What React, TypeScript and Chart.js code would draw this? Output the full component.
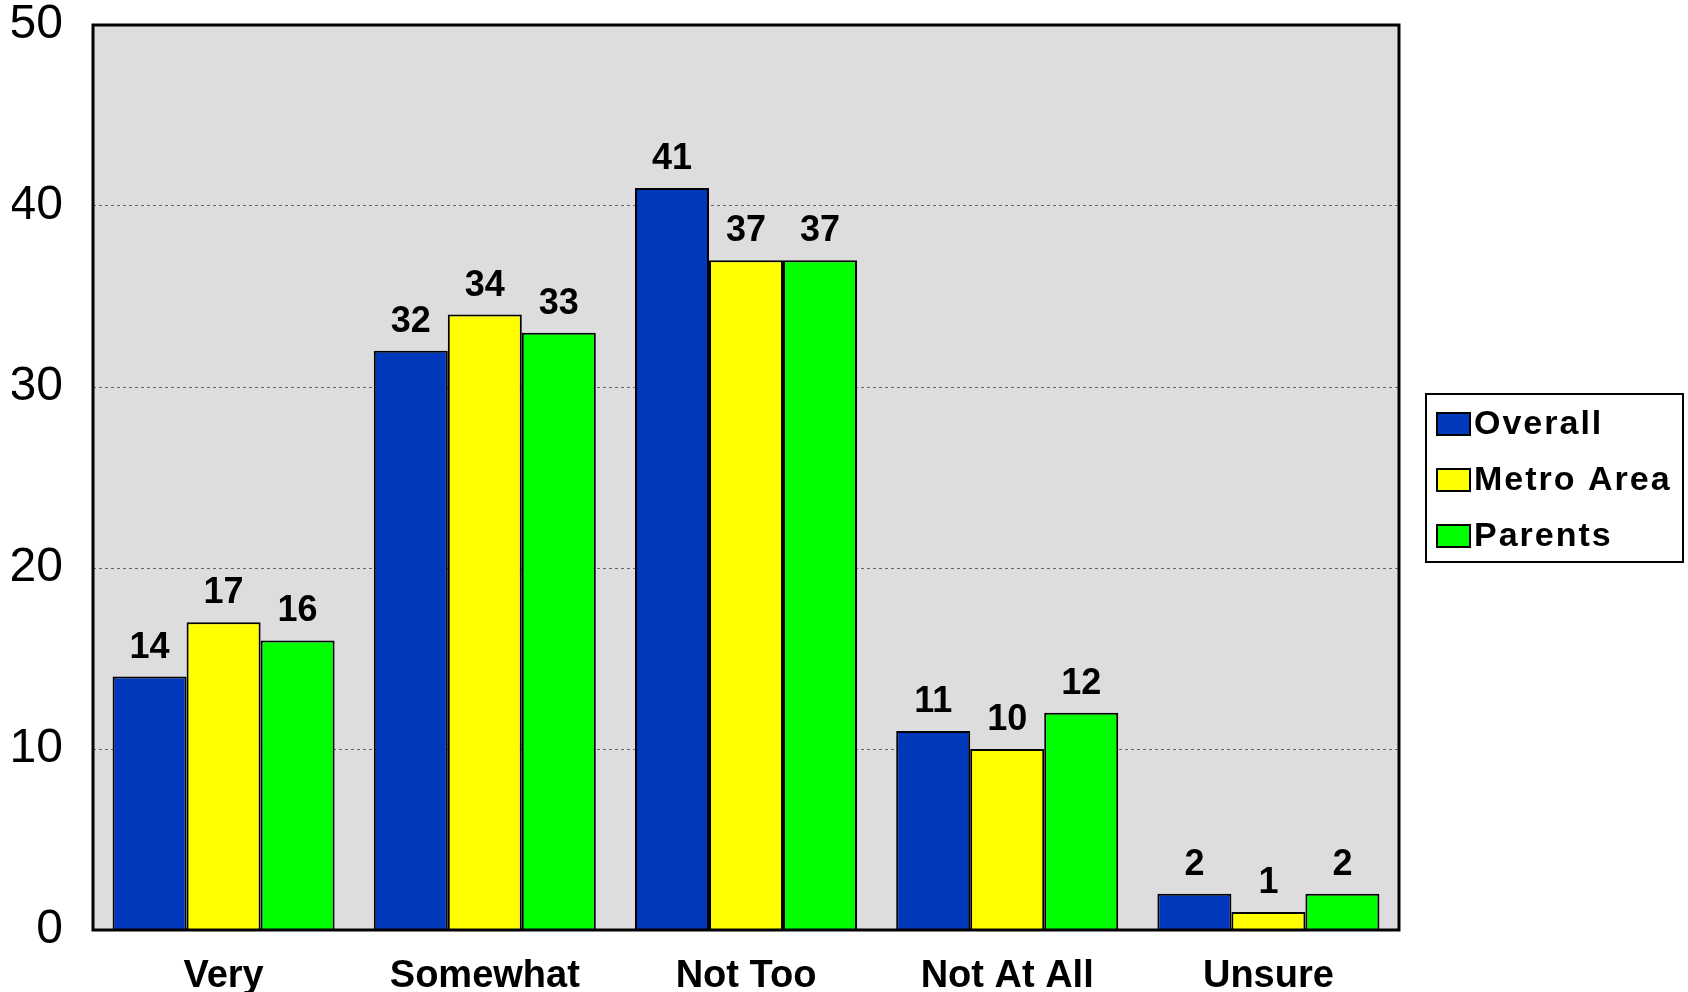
import React, { useEffect, useRef } from "react";
import { Chart, registerables } from "chart.js";

Chart.register(...registerables);

const categories = ["Very", "Somewhat", "Not Too", "Not At All", "Unsure"];
const seriesNames = ["Overall", "Metro Area", "Parents"];
const overall = [14, 32, 41, 11, 2];
const metroArea = [17, 34, 37, 10, 1];
const parents = [16, 33, 37, 12, 2];
const seriesColors = ["#0038BC", "#FFFF00", "#00FF00"];
const yTicks = [0, 10, 20, 30, 40, 50];

const FONT = "'Liberation Sans', Arial, sans-serif";

const plotBgPlugin = {
  id: "plotBg",
  beforeDraw(chart: any) {
    const { ctx, chartArea } = chart;
    ctx.save();
    ctx.fillStyle = "#DDDDDD";
    ctx.fillRect(chartArea.left, chartArea.top, chartArea.right - chartArea.left, chartArea.bottom - chartArea.top);
    ctx.restore();
  },
  afterDatasetsDraw(chart: any) {
    const { ctx, chartArea } = chart;
    ctx.save();
    ctx.strokeStyle = "#000";
    ctx.lineWidth = 3;
    ctx.strokeRect(chartArea.left, chartArea.top, chartArea.right - chartArea.left, chartArea.bottom - chartArea.top);
    // data labels
    ctx.fillStyle = "#000";
    ctx.font = `bold 36px ${FONT}`;
    ctx.textAlign = "center";
    ctx.textBaseline = "alphabetic";
    chart.data.datasets.forEach((ds: any, di: number) => {
      const meta = chart.getDatasetMeta(di);
      meta.data.forEach((bar: any, i: number) => {
        ctx.fillText(String(ds.data[i]), bar.x, bar.y - 19);
      });
    });
    // legend
    const lx = 1426, ly = 394, lw = 257, lh = 168;
    ctx.fillStyle = "#fff";
    ctx.fillRect(lx, ly, lw, lh);
    ctx.strokeStyle = "#000";
    ctx.lineWidth = 2;
    ctx.strokeRect(lx, ly, lw, lh);
    ctx.font = `bold 34px ${FONT}`;
    (ctx as any).letterSpacing = "2px";
    ctx.textAlign = "left";
    ctx.textBaseline = "middle";
    chart.data.datasets.forEach((ds: any, di: number) => {
      const cy = ly + 30 + di * 56;
      ctx.fillStyle = ds.backgroundColor;
      ctx.fillRect(lx + 11, cy - 11, 33, 22);
      ctx.strokeStyle = "#000";
      ctx.lineWidth = 2;
      ctx.strokeRect(lx + 11, cy - 11, 33, 22);
      ctx.fillStyle = "#000";
      ctx.fillText(ds.label, lx + 48, cy + 1);
    });
    ctx.restore();
  },
};

export default function App() {
  const ref = useRef<HTMLCanvasElement>(null);
  useEffect(() => {
    if (!ref.current) return;
    const seriesData = [overall, metroArea, parents];
    const chart = new Chart(ref.current, {
      type: "bar",
      data: {
        labels: categories,
        datasets: seriesNames.map((name, i) => ({
          label: name,
          data: seriesData[i],
          backgroundColor: seriesColors[i],
          borderColor: "#000",
          borderWidth: 2,
          categoryPercentage: 0.85,
          barPercentage: 1.0,
        })),
      },
      options: {
        animation: false,
        responsive: false,
        maintainAspectRatio: false,
        layout: { padding: { left: 12, right: 289, top: 25, bottom: 0 } },
        plugins: { legend: { display: false }, tooltip: { enabled: false } },
        scales: {
          x: {
            grid: { display: false, drawTicks: false },
            border: { display: false },
            afterFit: (axis: any) => {
              axis.height = 62;
              axis.paddingLeft = 0;
              axis.paddingRight = 0;
            },
            ticks: { color: "#000", font: { family: FONT, size: 38, weight: "bold" }, padding: 24 },
          },
          y: {
            min: 0,
            max: 50,
            afterBuildTicks: (axis: any) => {
              axis.ticks = yTicks.map((v) => ({ value: v }));
            },
            afterFit: (axis: any) => {
              axis.width = 81;
              axis.paddingTop = 0;
              axis.paddingBottom = 0;
            },
            grid: {
              color: (c: any) => (c.tick && (c.tick.value === 0 || c.tick.value === 50) ? "rgba(0,0,0,0)" : "#666"),
              lineWidth: 1,
              drawTicks: false,
            },
            border: { display: false, dash: [3, 3] },
            ticks: { color: "#000", font: { family: FONT, size: 48 }, padding: 30 },
          },
        },
      },
      plugins: [plotBgPlugin],
    } as any);
    return () => chart.destroy();
  }, []);
  return (
    <div style={{ position: "fixed", left: 0, top: 0, width: 1688, height: 992, background: "#fff" }}>
      <canvas ref={ref} width={1688} height={992} style={{ width: 1688, height: 992 }} />
    </div>
  );
}
